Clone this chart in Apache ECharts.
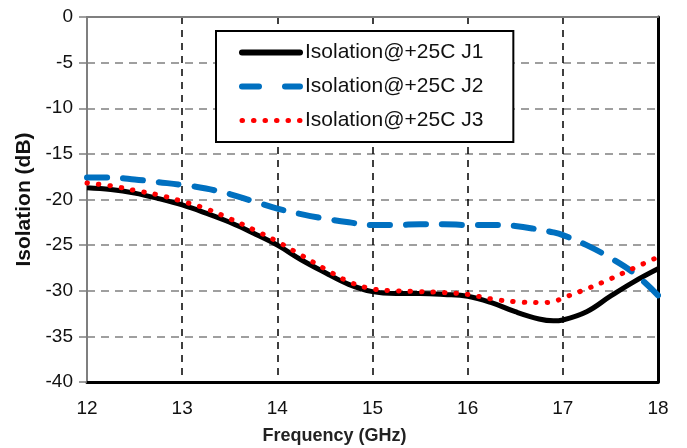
<!DOCTYPE html>
<html>
<head>
  <meta charset="UTF-8" />
  <title>Isolation vs Frequency</title>
  <script src="https://cdn.jsdelivr.net/npm/echarts@6/dist/echarts.min.js"></script>
  <style>
    html, body { margin: 0; padding: 0; background: #fff; }
    #chart { width: 687px; height: 448px; }
  </style>
</head>
<body>
  <div id="chart"></div>
  <script>
    // frequency points (GHz)
    const freq = [12, 12.25, 12.5, 12.75, 13, 13.25, 13.5, 13.75, 14, 14.25, 14.5, 14.75, 15,
                  15.25, 15.5, 15.75, 16, 16.25, 16.5, 16.75, 16.9, 17, 17.25, 17.5, 17.75, 18];
    const j1 = [-18.7, -18.9, -19.3, -19.9, -20.6, -21.5, -22.5, -23.7, -25.0, -26.6, -28.0, -29.3, -30.1,
                -30.3, -30.3, -30.4, -30.6, -31.3, -32.3, -33.1, -33.3, -33.2, -32.3, -30.6, -29.0, -27.6];
    const j2 = [-17.6, -17.6, -17.8, -18.1, -18.4, -18.8, -19.4, -20.2, -21.0, -21.6, -22.1, -22.5, -22.8,
                -22.8, -22.7, -22.7, -22.8, -22.8, -22.9, -23.3, -23.6, -23.9, -25.0, -26.4, -28.1, -30.5];
    const j3 = [-18.2, -18.5, -19.0, -19.5, -20.2, -21.0, -22.1, -23.3, -24.6, -26.1, -27.6, -29.0, -29.8,
                -30.0, -30.1, -30.2, -30.4, -30.9, -31.2, -31.3, -31.2, -30.8, -29.8, -28.7, -27.5, -26.3];
    const names = ['Isolation@+25C J1', 'Isolation@+25C J2', 'Isolation@+25C J3'];

    const chart = echarts.init(document.getElementById('chart'));
    const pair = arr => arr.map((v, i) => [freq[i], v]);
    const font = 'Liberation Sans, Arial, sans-serif';

    const styles = [
      { color: '#000', width: 5, type: 'solid', cap: 'butt' },
      { color: '#0070c0', width: 6, type: [20, 16], cap: 'round' },
      { color: '#ff0000', width: 5, type: [0.5, 11], cap: 'round' }
    ];
    const legendStyles = [
      { color: '#000', width: 6, type: 'solid', cap: 'round' },
      { color: '#0070c0', width: 6, type: [17, 26], cap: 'round' },
      { color: '#ff0000', width: 5, type: [0.5, 11], cap: 'round' }
    ];

    chart.setOption({
      animation: false,
      grid: { left: 87, right: 29, top: 17, bottom: 66, containLabel: false, outerBoundsMode: 'none' },
      legend: {
        orient: 'vertical',
        left: 216, top: 31,
        data: names.map((n, i) => ({ name: n, itemStyle: { opacity: 0 }, lineStyle: legendStyles[i] })),
        itemWidth: 58, itemHeight: 20, itemGap: 13,
        padding: [11, 30, 11, 23],
        backgroundColor: '#fff',
        borderColor: '#000', borderWidth: 2, borderRadius: 0,
        textStyle: { fontFamily: font, fontSize: 21, color: '#111' }
      },
      xAxis: [{
        type: 'value', min: 12, max: 18, interval: 1,
        name: 'Frequency (GHz)', nameLocation: 'middle', nameGap: 45,
        nameTextStyle: { fontFamily: font, fontSize: 18, fontWeight: 'bold', color: '#222', padding: [0, 76, 0, 0] },
        axisLine: { onZero: false, lineStyle: { color: '#000', width: 3 } },
        axisTick: { show: false },
        axisLabel: { margin: 17, fontFamily: font, fontSize: 19, color: '#111' },
        splitLine: { show: true, lineStyle: { color: '#000', type: [7, 6], width: 1.5 } }
      }, {
        type: 'value', position: 'top', min: 12, max: 18,
        axisLine: { show: true, lineStyle: { color: '#7f7f7f', width: 2 } },
        axisTick: { show: false }, axisLabel: { show: false }, splitLine: { show: false }
      }],
      yAxis: [{
        type: 'value', min: -40, max: 0, interval: 5,
        name: 'Isolation (dB)', nameLocation: 'middle', nameGap: 50, nameRotate: 90,
        nameTextStyle: { fontFamily: font, fontSize: 21, fontWeight: 'bold', color: '#111' },
        axisLine: { show: true, onZero: false, lineStyle: { color: '#7f7f7f', width: 2 } },
        axisTick: { show: true, length: 8, lineStyle: { color: '#7f7f7f', width: 1.5 } },
        axisLabel: { margin: 14, fontFamily: font, fontSize: 19, color: '#111' },
        splitLine: { show: true, lineStyle: { color: '#808080', type: [8, 6], width: 1.5 } }
      }, {
        type: 'value', position: 'right', min: -40, max: 0,
        axisLine: { show: true, lineStyle: { color: '#000', width: 3 } },
        axisTick: { show: false }, axisLabel: { show: false }, splitLine: { show: false }
      }],
      series: [j1, j2, j3].map((d, i) => ({
        name: names[i], type: 'line', data: pair(d), smooth: 0.4, symbol: 'none',
        lineStyle: styles[i], itemStyle: { color: styles[i].color }
      }))
    });
  </script>
</body>
</html>
